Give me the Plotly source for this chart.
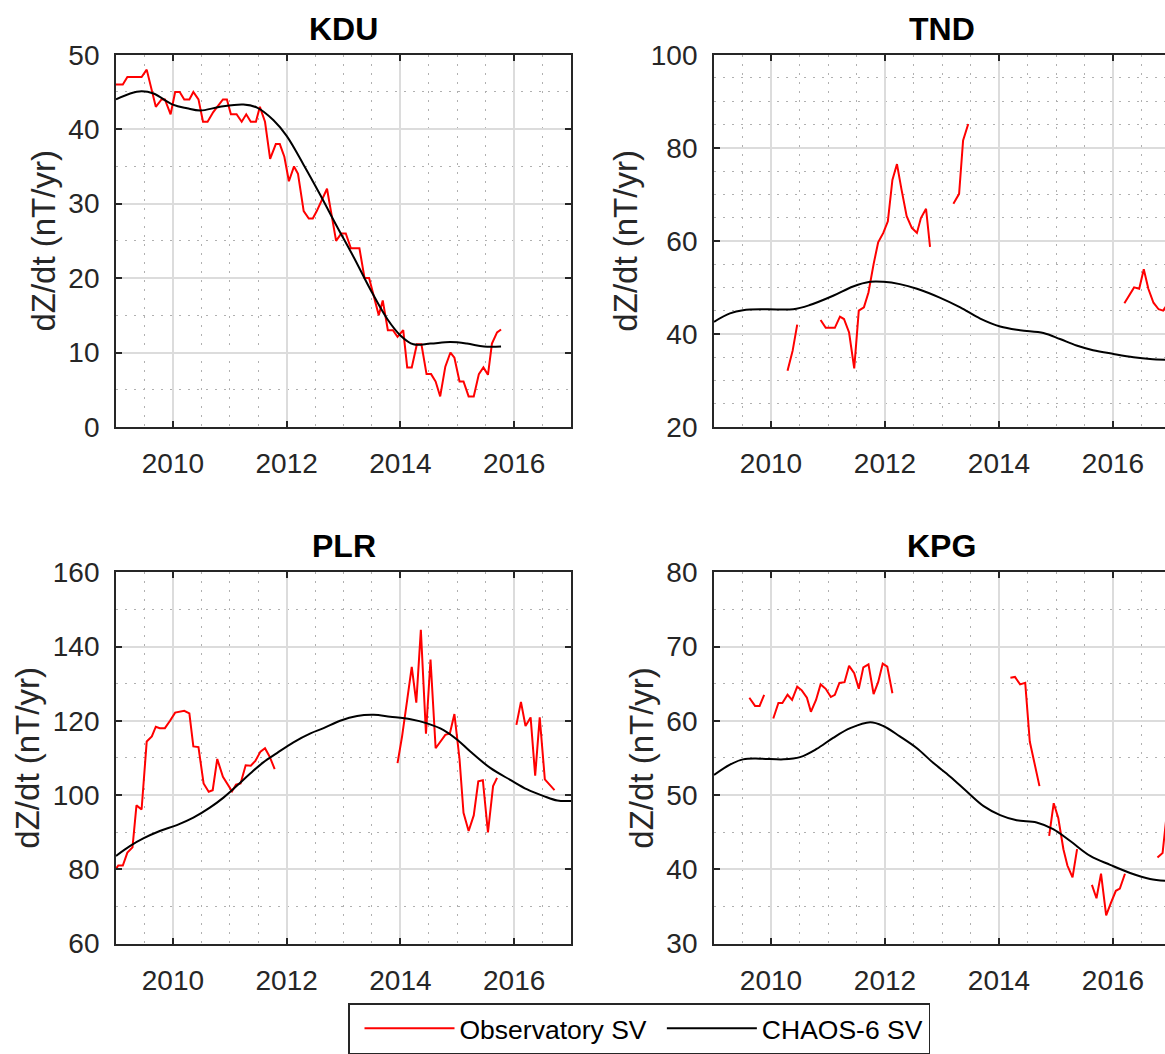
import plotly.graph_objects as go

# ---------------- data ----------------
N = None
kdu_obs_t = [2009.00, 2009.12, 2009.20, 2009.45, 2009.54, 2009.70, 2009.80, 2009.86, 2009.96, 2010.04,
             2010.12, 2010.20, 2010.29, 2010.36, 2010.45, 2010.53, 2010.61, 2010.71, 2010.88, 2010.95,
             2011.02, 2011.12, 2011.21, 2011.29, 2011.37, 2011.46, 2011.53, 2011.62, 2011.71, 2011.81,
             2011.88, 2011.96, 2012.04, 2012.13, 2012.20, 2012.30, 2012.39, 2012.46, 2012.53, 2012.62,
             2012.71, 2012.87, 2012.96, 2013.04, 2013.13, 2013.28, 2013.37, 2013.45, 2013.62, 2013.69,
             2013.78, 2013.87, 2013.95, 2014.05, 2014.12, 2014.20, 2014.29, 2014.37, 2014.46, 2014.54,
             2014.62, 2014.70, 2014.79, 2014.88, 2014.95, 2015.04, 2015.11, 2015.20, 2015.29, 2015.38,
             2015.46, 2015.54, 2015.61, 2015.70, 2015.77]
kdu_obs_v = [46, 46, 47, 47, 48, 43, 44, 44, 42, 45,
             45, 44, 44, 45, 44, 41, 41, 42.3, 44, 44,
             42, 42, 41, 42, 41, 41, 43, 41, 36, 38,
             38, 36.3, 33, 35, 34, 29, 28, 28, 29, 30.5,
             32, 25, 26, 26, 24, 24, 20, 20, 15, 17,
             13, 13, 12.1, 13, 8, 8, 11.1, 11.1, 7.1, 7.1,
             6.1, 4.1, 8.1, 10, 9.3, 6.1, 6.1, 4.1, 4.1, 7.1,
             8, 7, 11.2, 12.7, 13.1]
kdu_mod_t = [2009.0, 2009.25, 2009.45, 2009.66, 2010.0, 2010.25, 2010.48, 2010.83, 2011.24, 2011.48,
             2011.77, 2012.0, 2012.3, 2012.59, 2012.88, 2013.18, 2013.47, 2013.77, 2014.0, 2014.23,
             2014.53, 2014.88, 2015.17, 2015.47, 2015.77]
kdu_mod_v = [44.0, 44.8, 45.1, 44.8, 43.3, 42.8, 42.5, 43.0, 43.3, 42.9,
             41.2, 39.1, 35.2, 31.2, 27.0, 22.8, 18.5, 14.5, 12.3, 11.1,
             11.2, 11.4, 11.2, 10.8, 10.8]

tnd_obs_t = [2010.29, 2010.38, 2010.46, N,
             2010.87, 2010.96, 2011.12, 2011.21, 2011.28, 2011.37, 2011.46, 2011.54, 2011.63, 2011.71,
             2011.80, 2011.88, 2011.97, 2012.05, 2012.13, 2012.21, 2012.29, 2012.38, 2012.47, 2012.56,
             2012.63, 2012.72, 2012.79, N,
             2013.20, 2013.30, 2013.37, 2013.46, N,
             2016.20, 2016.30, 2016.37, 2016.46, 2016.54, 2016.62, 2016.71, 2016.80, 2016.88, 2016.96]
tnd_obs_v = [32.1, 36.4, 42.0, N,
             43.0, 41.3, 41.3, 43.7, 43.2, 40.3, 32.6, 45.0, 45.7, 48.9,
             55.0, 59.7, 61.7, 64.2, 73.1, 76.5, 71.0, 65.3, 62.8, 61.7,
             64.9, 66.9, 58.7, N,
             68.0, 70.1, 81.6, 85.1, N,
             46.6, 48.5, 50.0, 49.7, 53.9, 49.7, 46.7, 45.3, 45.0, 46.5]
tnd_mod_t = [2009.0, 2009.28, 2009.51, 2009.92, 2010.39, 2010.68, 2011.09, 2011.44, 2011.74, 2011.97,
             2012.26, 2012.56, 2012.96, 2013.32, 2013.67, 2014.02, 2014.37, 2014.78, 2015.07, 2015.36,
             2015.65, 2016.01, 2016.36, 2016.65, 2017.0]
tnd_mod_v = [42.6, 44.4, 45.1, 45.3, 45.3, 46.2, 48.2, 50.2, 51.2, 51.2,
             50.7, 49.7, 47.8, 45.7, 43.3, 41.6, 40.8, 40.2, 38.9, 37.5,
             36.5, 35.7, 35.0, 34.6, 34.4]

plr_obs_t = [2009.00, 2009.04, 2009.12, 2009.20, 2009.29, 2009.36, 2009.45, 2009.54, 2009.63, 2009.70,
             2009.77, 2009.86, 2009.95, 2010.04, 2010.20, 2010.29, 2010.36, 2010.45, 2010.54, 2010.63,
             2010.70, 2010.78, 2010.88, 2011.04, 2011.11, 2011.19, 2011.28, 2011.37, 2011.45, 2011.54,
             2011.62, 2011.70, 2011.79, N,
             2013.95, 2014.03, 2014.12, 2014.20, 2014.28, 2014.36, 2014.45, 2014.53, 2014.62, 2014.70,
             2014.79, 2014.87, 2014.95, 2015.04, 2015.11, 2015.20, 2015.29, 2015.37, 2015.45, 2015.54,
             2015.63, 2015.70, N,
             2016.04, 2016.12, 2016.20, 2016.29, 2016.37, 2016.45, 2016.54, 2016.71]
plr_obs_v = [80.1, 81.0, 81.0, 84.5, 85.9, 97.2, 96.1, 114.4, 115.8, 118.4,
             118.0, 118.0, 120.0, 122.2, 122.7, 122.0, 113.1, 112.9, 103.1, 100.9,
             101.3, 109.7, 104.9, 101.0, 102.8, 103.1, 108.0, 107.9, 109.2, 111.7,
             112.6, 110.4, 107.0, N,
             108.6, 115.8, 125.6, 134.5, 124.9, 144.5, 116.5, 136.5, 112.6, 114.4,
             116.2, 116.6, 121.8, 109.7, 95.2, 90.3, 94.5, 103.7, 104.0, 89.9,
             102.4, 104.6, N,
             118.9, 125.1, 118.6, 120.9, 105.2, 120.9, 104.2, 101.3]
plr_mod_t = [2009.0, 2009.25, 2009.48, 2009.77, 2010.07, 2010.36, 2010.65, 2010.89, 2011.12, 2011.36,
             2011.59, 2011.83, 2012.12, 2012.42, 2012.65, 2012.94, 2013.24, 2013.53, 2013.82, 2014.18,
             2014.47, 2014.76, 2015.0, 2015.23, 2015.58, 2015.94, 2016.23, 2016.52, 2016.76, 2017.0]
plr_mod_v = [83.6, 86.3, 88.3, 90.3, 91.9, 93.9, 96.6, 99.3, 102.4, 105.8,
             108.8, 111.3, 114.2, 116.6, 118.0, 120.0, 121.3, 121.6, 121.1, 120.4,
             119.3, 117.5, 114.9, 111.7, 107.3, 104.0, 101.5, 99.7, 98.5, 98.4]

kpg_obs_t = [2009.62, 2009.72, 2009.80, 2009.88, N,
             2010.04, 2010.13, 2010.20, 2010.29, 2010.37, 2010.46, 2010.54, 2010.63, 2010.70, 2010.79,
             2010.87, 2010.96, 2011.05, 2011.12, 2011.20, 2011.29, 2011.37, 2011.46, 2011.54, 2011.62,
             2011.71, 2011.80, 2011.88, 2011.96, 2012.04, 2012.13, N,
             2014.20, 2014.28, 2014.37, 2014.46, 2014.54, 2014.63, 2014.71, N,
             2014.88, 2014.96, 2015.04, 2015.13, 2015.20, 2015.29, 2015.37, N,
             2015.63, 2015.71, 2015.79, 2015.88, 2015.96, 2016.05, 2016.12, 2016.21, N,
             2016.78, 2016.87, 2016.93]
kpg_obs_v = [63.1, 62.0, 62.0, 63.5, N,
             60.3, 62.4, 62.4, 63.5, 62.8, 64.6, 64.1, 63.1, 61.2, 62.8,
             64.9, 64.3, 63.2, 63.5, 65.1, 65.2, 67.4, 66.4, 64.3, 67.2,
             67.6, 63.6, 65.2, 67.7, 67.3, 63.7, N,
             65.8, 65.9, 64.9, 65.1, 57.2, 54.1, 51.2, N,
             44.5, 48.9, 46.9, 42.7, 40.5, 38.9, 42.7, N,
             37.9, 36.1, 39.4, 33.8, 35.4, 37.1, 37.4, 39.4, N,
             41.6, 42.2, 46.5]
kpg_mod_t = [2009.0, 2009.28, 2009.51, 2009.81, 2010.22, 2010.51, 2010.8, 2011.09, 2011.39, 2011.74,
             2011.97, 2012.26, 2012.56, 2012.85, 2013.14, 2013.43, 2013.73, 2014.02, 2014.31, 2014.66,
             2014.95, 2015.25, 2015.6, 2015.95, 2016.3, 2016.65, 2017.0]
kpg_mod_v = [52.7, 54.1, 54.8, 54.9, 54.8, 55.1, 56.2, 57.7, 59.0, 59.8,
             59.3, 57.9, 56.3, 54.3, 52.5, 50.5, 48.5, 47.3, 46.6, 46.3,
             45.4, 43.8, 41.8, 40.6, 39.5, 38.7, 38.4]

stations = ["KDU", "TND", "PLR", "KPG"]
y_ranges = [[0, 50], [20, 100], [60, 160], [30, 80]]
y_dticks = [10, 20, 20, 10]
y_minor = [5, 5, 10, 5]
obs_series = [(kdu_obs_t, kdu_obs_v), (tnd_obs_t, tnd_obs_v), (plr_obs_t, plr_obs_v), (kpg_obs_t, kpg_obs_v)]
mod_series = [(kdu_mod_t, kdu_mod_v), (tnd_mod_t, tnd_mod_v), (plr_mod_t, plr_mod_v), (kpg_mod_t, kpg_mod_v)]
y_title = "dZ/dt (nT/yr)"
obs_name = "Observatory SV"
mod_name = "CHAOS-6 SV"

# ---------------- layout geometry ----------------
W, H = 1165, 1054
x_doms = [[116 / W, 571 / W], [714 / W, 1.0], [116 / W, 571 / W], [714 / W, 1.0]]
y_doms = [[1 - 429 / H, 1 - 55 / H], [1 - 429 / H, 1 - 55 / H],
          [1 - 948 / H, 1 - 575 / H], [1 - 948 / H, 1 - 575 / H]]
x_ranges = [[2009, 2017], [2009, 2009 + 451 / 57.0], [2009, 2017], [2009, 2009 + 451 / 57.0]]

FONT = "Liberation Sans, Arial, Helvetica, sans-serif"
AX = "#262626"

fig = go.Figure()
for i in range(4):
    sfx = "" if i == 0 else str(i + 1)
    fig.add_trace(go.Scatter(x=obs_series[i][0], y=obs_series[i][1], mode="lines",
                             line=dict(color="#ff0000", width=2), connectgaps=False,
                             name=obs_name, legendgroup="obs", showlegend=(i == 0),
                             xaxis="x" + sfx, yaxis="y" + sfx))
    fig.add_trace(go.Scatter(x=mod_series[i][0], y=mod_series[i][1], mode="lines",
                             line=dict(color="#000000", width=2, shape="spline", smoothing=1.0),
                             name=mod_name, legendgroup="mod", showlegend=(i == 0),
                             xaxis="x" + sfx, yaxis="y" + sfx))

annotations = []
for i in range(4):
    sfx = "" if i == 0 else str(i + 1)
    right_col = i in (1, 3)
    fig.layout["xaxis" + sfx] = dict(
        domain=x_doms[i], range=x_ranges[i], anchor="y" + sfx,
        tickmode="linear", tick0=2010, dtick=2, ticks="inside", ticklen=6, tickwidth=1.5,
        tickcolor=AX, showline=True, linecolor=AX, linewidth=1.8, mirror="ticks",
        showgrid=True, gridcolor="#dcdcdc", gridwidth=1.5, zeroline=False,
        minor=dict(tick0=2009, dtick=0.5, showgrid=True, gridcolor="#b0b0b0",
                   griddash="2px,7px", gridwidth=1.3, ticks=""),
        tickfont=dict(family=FONT, size=28, color=AX), ticklabelstandoff=11,
        automargin=False, fixedrange=True)
    fig.layout["yaxis" + sfx] = dict(
        domain=y_doms[i], range=y_ranges[i], anchor="x" + sfx,
        tickmode="linear", tick0=y_ranges[i][0], dtick=y_dticks[i], ticks="inside", ticklen=6,
        tickwidth=1.5, tickcolor=AX, showline=True, linecolor=AX, linewidth=1.8,
        mirror=(False if right_col else "ticks"),
        showgrid=True, gridcolor="#dcdcdc", gridwidth=1.5, zeroline=False,
        minor=dict(tick0=y_ranges[i][0], dtick=y_minor[i], showgrid=True, gridcolor="#b0b0b0",
                   griddash="2px,7px", gridwidth=1.3, ticks=""),
        tickfont=dict(family=FONT, size=28, color=AX), ticklabelstandoff=9,
        title=dict(text=y_title, font=dict(family=FONT, size=33, color=AX), standoff=3),
        automargin=False, fixedrange=True)
    annotations.append(dict(
        text="<b>%s</b>" % stations[i], xref="paper", yref="paper",
        x=(x_doms[i][0] + (x_doms[i][1] if not right_col else (714 + 455) / W)) / 2,
        y=1 - (29 if i < 2 else 549) / H, xanchor="center", yanchor="middle",
        showarrow=False, font=dict(family=FONT, size=32, color="#000000")))

fig.update_layout(
    width=W, height=H, autosize=False,
    margin=dict(l=0, r=0, t=0, b=0, pad=0),
    paper_bgcolor="white", plot_bgcolor="white",
    annotations=annotations,
    showlegend=True,
    legend=dict(orientation="h", x=348 / W, y=1 - 1008 / H, xanchor="left", yanchor="top",
                bordercolor=AX, borderwidth=1.5, bgcolor="white",
                font=dict(family=FONT, size=26.5, color="#000000"),
                itemwidth=90, indentation=10, traceorder="normal"),
)

fig.write_html("out.html")
